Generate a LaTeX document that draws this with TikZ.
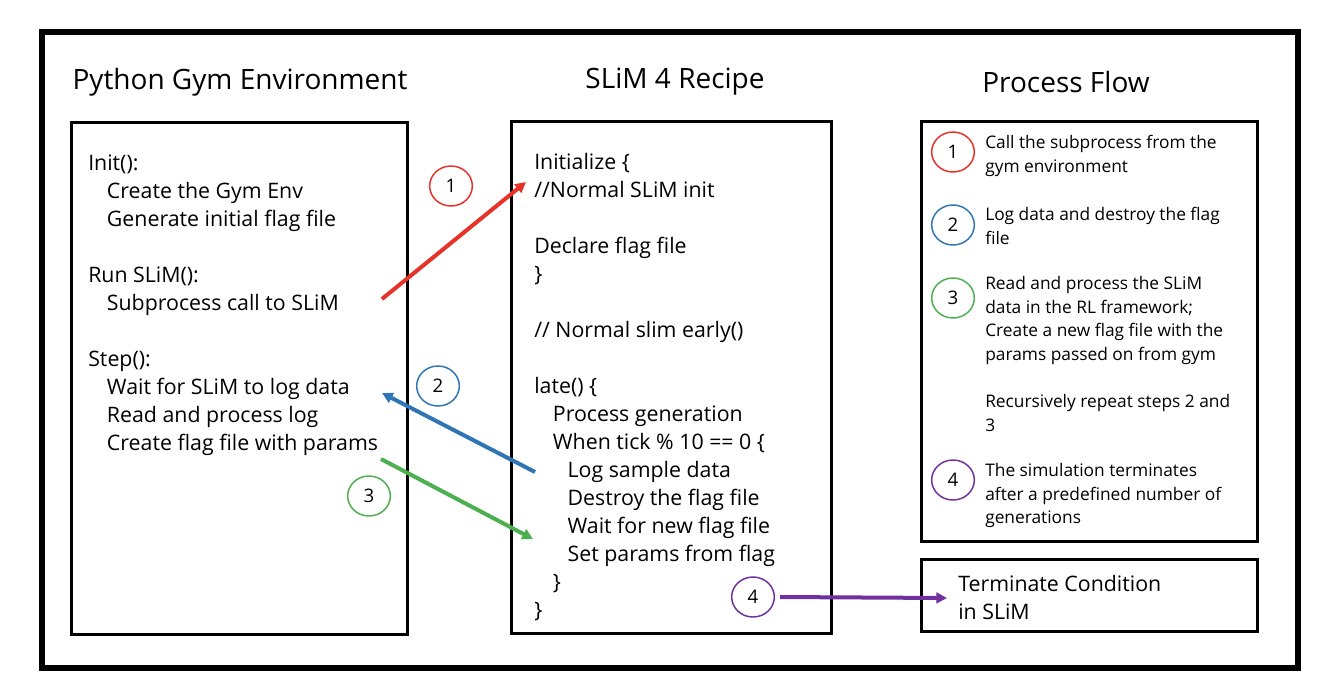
\documentclass[tikz,border=0pt]{standalone}
\usepackage{fontspec}
\setmainfont{Open Sans}
\usepackage{xcolor}
\usetikzlibrary{shapes.geometric,arrows.meta,positioning}

\definecolor{stepred}{RGB}{230,50,40}
\definecolor{stepblue}{RGB}{46,117,182}
\definecolor{stepgreen}{RGB}{76,175,80}
\definecolor{steppurple}{RGB}{112,48,160}

\begin{document}
\begin{tikzpicture}[
    x=0.75pt, y=-0.75pt,
    frame/.style={draw=black, line width=4pt},
    panel/.style={rectangle, draw=black, line width=1.9pt, anchor=north west, inner sep=0pt},
    title/.style={font=\fontsize{21}{24}\selectfont},
    code/.style={anchor=north west, inner sep=0pt, align=left, font=\fontsize{16}{21}\selectfont},
    note/.style={anchor=north west, inner sep=0pt, align=left, font=\fontsize{13}{17.8}\selectfont},
    badge/.style={ellipse, draw=#1, line width=1.1pt, minimum width=32pt, minimum height=30pt, inner sep=0pt, font=\fontsize{14}{16}\selectfont},
    arrow/.style={-{Triangle[length=8pt,width=8pt]}, line width=3pt}
]
    \useasboundingbox (0,0) rectangle (1322,694);
    \draw[frame] (42,32) rectangle (1298,668);

    % Titles
    \node[title] (gymtitle) at (240,82) {Python Gym Environment};
    \node[title] (slimtitle) at (675,82) {SLiM 4 Recipe};
    \node[title] (flowtitle) at (1066,82) {Process Flow};

    % Panels
    \node[panel, minimum width=252pt, minimum height=384pt] (gym) at (70,121) {};
    \node[panel, minimum width=240pt, minimum height=384pt] (slim) at (510,120) {};
    \node[panel, minimum width=252pt, minimum height=315pt] (flow) at (920,120) {};
    \node[panel, minimum width=252pt, minimum height=54pt] (term) at (920,558) {};

    % Gym code
    \node[code] (gymtext) at (88,155) {Init():\\
        \hspace*{14pt}Create the Gym Env\\
        \hspace*{14pt}Generate initial flag file\\[21pt]
        Run SLiM():\\
        \hspace*{14pt}Subprocess call to SLiM\\[21pt]
        Step():\\
        \hspace*{14pt}Wait for SLiM to log data\\
        \hspace*{14pt}Read and process log\\
        \hspace*{14pt}Create flag file with params};

    % SLiM recipe
    \node[code] (slimtext) at (534,153) {Initialize \{\\
        //Normal SLiM init\\[21pt]
        Declare flag file\\
        \}\\[21pt]
        // Normal slim early()\\[21pt]
        late() \{\\
        \hspace*{14pt}Process generation\\
        \hspace*{14pt}When tick \% 10 == 0 \{\\
        \hspace*{25pt}Log sample data\\
        \hspace*{25pt}Destroy the flag file\\
        \hspace*{25pt}Wait for new flag file\\
        \hspace*{25pt}Set params from flag\\
        \hspace*{14pt}\}\\
        \}};

    % Process flow
    \node[badge=stepred] (f1) at (953,152) {1};
    \node[badge=stepblue] (f2) at (953,225) {2};
    \node[badge=stepgreen] (f3) at (953,298) {3};
    \node[badge=steppurple] (f4) at (953,480) {4};
    \node[note] (n1) at (985,135) {Call the subprocess from the\\gym environment};
    \node[note] (n2) at (985,207) {Log data and destroy the flag\\file};
    \node[note] (n3) at (985,276) {Read and process the SLiM\\data in the RL framework;\\Create a new flag file with the\\params passed on from gym};
    \node[note] (nr) at (985,394) {Recursively repeat steps 2 and\\3};
    \node[note] (n4) at (985,463) {The simulation terminates\\after a predefined number of\\generations};
    \node[code] (termtext) at (958,575) {Terminate Condition\\in SLiM};

    % Step badges
    \node[badge=stepred] (s1) at (451,186) {1};
    \node[badge=stepblue] (s2) at (438,386) {2};
    \node[badge=stepgreen] (s3) at (369,496) {3};
    \node[badge=steppurple] (s4) at (753,597) {4};

    % Arrow ends
    \coordinate (callout) at (382,299);
    \coordinate (initin) at (526,182);
    \coordinate (logout) at (535,472);
    \coordinate (waitin) at (382,393);
    \coordinate (flagout) at (381,459);
    \coordinate (flagin) at (533,539);
    \coordinate (endin) at (947,598);

    % Arrows
    \draw[arrow, stepred] (callout) -- (initin);
    \draw[arrow, stepblue] (logout) -- (waitin);
    \draw[arrow, stepgreen] (flagout) -- (flagin);
    \draw[arrow, steppurple] (s4.east) ++(5,0) -- (endin);
\end{tikzpicture}
\end{document}
